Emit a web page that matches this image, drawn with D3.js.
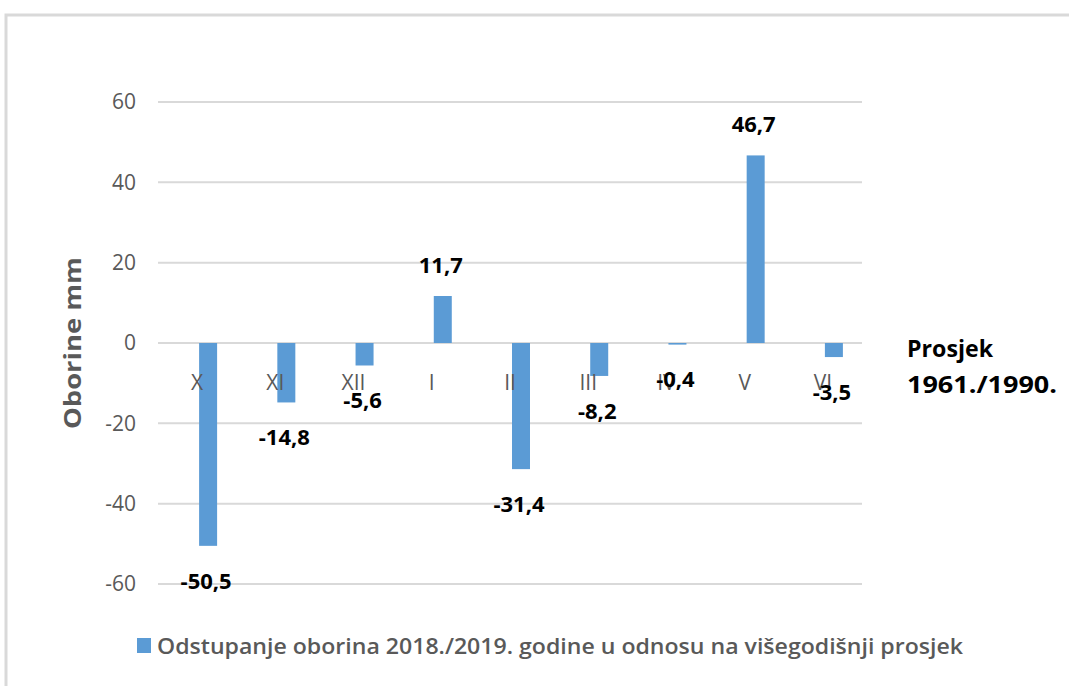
<!DOCTYPE html>
<html>
<head>
<meta charset="utf-8">
<script src="https://cdn.jsdelivr.net/npm/d3@7"></script>
<style>
  body { margin: 0; background: #fff; }
  svg text { font-family: "Open Sans", sans-serif; }
</style>
</head>
<body>
<svg width="1069" height="686"></svg>
<script>
// mjeseci hidrološke godine
var months = ["X", "XI", "XII", "I", "II", "III", "IV", "V", "VI"];
// odstupanje oborina (mm)
var deviation = [-50.5, -14.8, -5.6, 11.7, -31.4, -8.2, -0.4, 46.7, -3.5];
var yTicks = [-60, -40, -20, 0, 20, 40, 60];
var seriesName = "Odstupanje oborina 2018./2019. godine u odnosu na višegodišnji prosjek";
var yTitle = "Oborine mm";
var sideNote = ["Prosjek", "1961./1990."];

var svg = d3.select("svg");
var grey = "#595959";

// okvir
svg.append("path")
  .attr("d", "M6,686 V15 H1069")
  .attr("fill", "none")
  .attr("stroke", "#d9d9d9")
  .attr("stroke-width", 3);

var x = d3.scaleBand()
  .domain(months)
  .range([158, 862]);

var y = d3.scaleLinear()
  .domain([-60, 60])
  .range([584, 102]);

var barW = 18, barShift = 11;
var fmt = d => d3.format(".1f")(d).replace(".", ",").replace("\u2212", "-");

// mreža
svg.append("g")
  .selectAll("line")
  .data(yTicks)
  .enter()
  .append("line")
  .attr("x1", 158).attr("x2", 862)
  .attr("y1", d => y(d)).attr("y2", d => y(d))
  .attr("stroke", "#d9d9d9")
  .attr("stroke-width", 2);

// oznake osi y
svg.append("g")
  .selectAll("text")
  .data(yTicks)
  .enter()
  .append("text")
  .attr("x", 136)
  .attr("y", d => y(d))
  .attr("dy", "0.35em")
  .attr("text-anchor", "end")
  .attr("fill", grey)
  .style("font-size", "21px")
  .text(d => d);

// stupci
svg.append("g")
  .selectAll("rect")
  .data(deviation)
  .enter()
  .append("rect")
  .attr("x", (d, i) => x(months[i]) + x.bandwidth() / 2 + barShift - barW / 2)
  .attr("width", barW)
  .attr("y", d => y(Math.max(0, d)))
  .attr("height", d => Math.abs(y(d) - y(0)))
  .attr("fill", "#5b9bd5");

// oznake kategorija
svg.append("g")
  .selectAll("text")
  .data(months)
  .enter()
  .append("text")
  .attr("x", d => x(d) + x.bandwidth() / 2)
  .attr("y", 383)
  .attr("dy", "0.35em")
  .attr("text-anchor", "middle")
  .attr("fill", grey)
  .style("font-size", "21px")
  .text(d => d);

// vrijednosti
svg.append("g")
  .selectAll("text")
  .data(deviation)
  .enter()
  .append("text")
  .attr("x", (d, i) => x(months[i]) + x.bandwidth() / 2 + barShift - 2)
  .attr("y", d => y(d) + (d < 0 ? 35 : -31))
  .attr("dy", "0.35em")
  .attr("text-anchor", "middle")
  .attr("fill", "#000")
  .style("font-size", "22px")
  .style("font-weight", "bold")
  .text(fmt);

// naslov osi y
svg.append("text")
  .attr("transform", "translate(81,343) rotate(-90)")
  .attr("text-anchor", "middle")
  .attr("fill", grey)
  .attr("textLength", 172)
  .attr("lengthAdjust", "spacingAndGlyphs")
  .style("font-size", "24px")
  .style("font-weight", "bold")
  .text(yTitle);

// bilješka desno
svg.append("g")
  .selectAll("text")
  .data(sideNote)
  .enter()
  .append("text")
  .attr("x", 907)
  .attr("y", (d, i) => 357 + i * 36)
  .attr("fill", "#000")
  .attr("textLength", (d, i) => i ? 150 : 86)
  .attr("lengthAdjust", "spacingAndGlyphs")
  .style("font-size", "23px")
  .style("font-weight", "bold")
  .text(d => d);

// legenda
var leg = svg.append("g").attr("transform", "translate(137,638)");
leg.append("rect")
  .attr("width", 14).attr("height", 15)
  .attr("fill", "#5b9bd5");
leg.append("text")
  .attr("x", 20)
  .attr("y", 8)
  .attr("dy", "0.35em")
  .attr("fill", grey)
  .attr("textLength", 806)
  .attr("lengthAdjust", "spacingAndGlyphs")
  .style("font-size", "22px")
  .style("font-weight", "600")
  .text(seriesName);
</script>
</body>
</html>
